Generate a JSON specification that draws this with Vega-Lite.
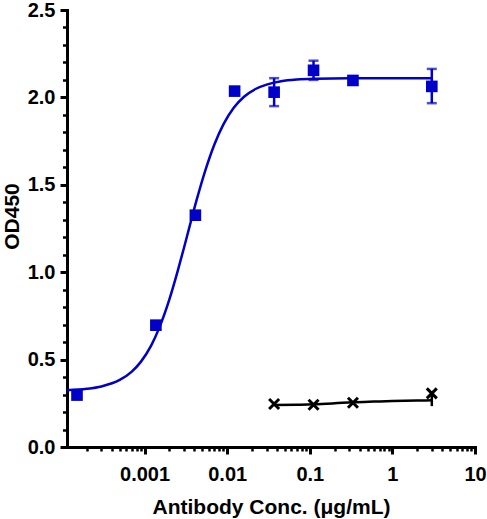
{
  "$schema": "https://vega.github.io/schema/vega-lite/v6.json",
  "width": 408,
  "height": 437,
  "autosize": "none",
  "padding": {"left": 67, "top": 10, "right": 12, "bottom": 72},
  "background": "white",
  "config": {
    "view": {"stroke": null},
    "font": "Liberation Sans",
    "axis": {
      "grid": false,
      "domainColor": "black",
      "domainWidth": 3,
      "domainCap": "square",
      "tickColor": "black",
      "labelColor": "black",
      "titleColor": "black",
      "labelFont": "Liberation Sans",
      "titleFont": "Liberation Sans",
      "labelFontWeight": "bold",
      "titleFontWeight": "bold",
      "labelFontSize": 20,
      "titleFontSize": 21
    }
  },
  "datasets": {
    "blue": [
      {"conc": 0.000152, "od": 0.297},
      {"conc": 0.00137, "od": 0.697},
      {"conc": 0.00412, "od": 1.326},
      {"conc": 0.0123, "od": 2.036},
      {"conc": 0.037, "od": 2.03, "lo": 1.95, "hi": 2.11},
      {"conc": 0.111, "od": 2.155, "lo": 2.10, "hi": 2.21},
      {"conc": 0.333, "od": 2.097},
      {"conc": 3, "od": 2.063, "lo": 1.967, "hi": 2.163}
    ],
    "blueCurve": [
      {"conc": 0.000115, "od": 0.325},
      {"conc": 0.0002, "od": 0.333},
      {"conc": 0.0003, "od": 0.3465},
      {"conc": 0.0005, "od": 0.3835},
      {"conc": 0.0007, "od": 0.4315},
      {"conc": 0.0009, "od": 0.487},
      {"conc": 0.0012, "od": 0.580},
      {"conc": 0.0015, "od": 0.680},
      {"conc": 0.002, "od": 0.846},
      {"conc": 0.0025, "od": 1.002},
      {"conc": 0.003, "od": 1.140},
      {"conc": 0.0035, "od": 1.261},
      {"conc": 0.0043, "od": 1.419},
      {"conc": 0.0055, "od": 1.590},
      {"conc": 0.007, "od": 1.731},
      {"conc": 0.009, "od": 1.846},
      {"conc": 0.012, "od": 1.941},
      {"conc": 0.016, "od": 2.004},
      {"conc": 0.022, "od": 2.048},
      {"conc": 0.03, "od": 2.073},
      {"conc": 0.045, "od": 2.092},
      {"conc": 0.07, "od": 2.102},
      {"conc": 0.12, "od": 2.107},
      {"conc": 0.3, "od": 2.11},
      {"conc": 1, "od": 2.11},
      {"conc": 3, "od": 2.11}
    ],
    "black": [
      {"conc": 0.037, "od": 0.246},
      {"conc": 0.111, "od": 0.242},
      {"conc": 0.333, "od": 0.253},
      {"conc": 3, "od": 0.307, "lo": 0.234, "hi": 0.307}
    ],
    "blackCurve": [
      {"conc": 0.037, "od": 0.240},
      {"conc": 0.07, "od": 0.241},
      {"conc": 0.111, "od": 0.244},
      {"conc": 0.2, "od": 0.250},
      {"conc": 0.333, "od": 0.256},
      {"conc": 0.6, "od": 0.260},
      {"conc": 1, "od": 0.263},
      {"conc": 2, "od": 0.266},
      {"conc": 3, "od": 0.267}
    ]
  },
  "encoding": {
    "x": {
      "field": "conc",
      "type": "quantitative",
      "scale": {"type": "log", "domain": [0.000115, 10], "nice": false},
      "axis": {
        "title": "Antibody Conc. (μg/mL)",
        "values": [0.0002, 0.0003, 0.0004, 0.0005, 0.0006, 0.0007, 0.0008, 0.0009,
                   0.001, 0.002, 0.003, 0.004, 0.005, 0.006, 0.007, 0.008, 0.009,
                   0.01, 0.02, 0.03, 0.04, 0.05, 0.06, 0.07, 0.08, 0.09,
                   0.1, 0.2, 0.3, 0.4, 0.5, 0.6, 0.7, 0.8, 0.9,
                   1, 2, 3, 4, 5, 6, 7, 8, 9, 10],
        "labelExpr": "abs(log(datum.value)/LN10 - round(log(datum.value)/LN10)) < 1e-6 ? format(datum.value, '~g') : ''",
        "tickSize": {"condition": {"test": "abs(log(datum.value)/LN10 - round(log(datum.value)/LN10)) < 1e-6", "value": 7}, "value": 4},
        "tickWidth": {"condition": {"test": "abs(log(datum.value)/LN10 - round(log(datum.value)/LN10)) < 1e-6", "value": 3}, "value": 2.5},
        "labelBaseline": "alphabetic",
        "labelPadding": 26,
        "labelFlush": false,
        "labelOverlap": false,
        "titleY": 66,
        "titleBaseline": "alphabetic"
      }
    },
    "y": {
      "field": "od",
      "type": "quantitative",
      "scale": {"domain": [0, 2.5], "nice": false},
      "axis": {
        "title": "OD450",
        "values": [0, 0.1, 0.2, 0.3, 0.4, 0.5, 0.6, 0.7, 0.8, 0.9, 1, 1.1, 1.2, 1.3, 1.4, 1.5, 1.6, 1.7, 1.8, 1.9, 2, 2.1, 2.2, 2.3, 2.4, 2.5],
        "labelExpr": "abs(datum.value*2 - round(datum.value*2)) < 1e-6 ? format(datum.value, '.1f') : ''",
        "tickSize": {"condition": {"test": "abs(datum.value*2 - round(datum.value*2)) < 1e-6", "value": 7}, "value": 4.5},
        "tickWidth": {"condition": {"test": "abs(datum.value*2 - round(datum.value*2)) < 1e-6", "value": 3}, "value": 2.5},
        "labelPadding": 5,
        "labelFlush": false,
        "labelOverlap": false,
        "titleX": -49,
        "titleY": 206,
        "titleBaseline": "alphabetic"
      }
    }
  },
  "layer": [
    {
      "data": {"name": "blueCurve"},
      "mark": {"type": "line", "color": "#0000C8", "strokeWidth": 2.5, "interpolate": "monotone"},
      "encoding": {}
    },
    {
      "data": {"name": "blackCurve"},
      "mark": {"type": "line", "color": "black", "strokeWidth": 2.5, "interpolate": "monotone"},
      "encoding": {}
    },
    {
      "data": {"name": "blue"},
      "transform": [{"filter": "isValid(datum.lo)"}],
      "mark": {"type": "rule", "color": "#0000C8", "strokeWidth": 2.5},
      "encoding": {"y": {"field": "lo", "type": "quantitative"}, "y2": {"field": "hi"}}
    },
    {
      "data": {"name": "blue"},
      "transform": [{"filter": "isValid(datum.lo)"}],
      "mark": {"type": "tick", "color": "#0000C8", "orient": "horizontal", "size": 10, "thickness": 2.5},
      "encoding": {"y": {"field": "lo", "type": "quantitative"}}
    },
    {
      "data": {"name": "blue"},
      "transform": [{"filter": "isValid(datum.hi)"}],
      "mark": {"type": "tick", "color": "#0000C8", "orient": "horizontal", "size": 10, "thickness": 2.5},
      "encoding": {"y": {"field": "hi", "type": "quantitative"}}
    },
    {
      "data": {"name": "blue"},
      "mark": {"type": "point", "shape": "square", "filled": true, "color": "#0000C8", "size": 135, "opacity": 1},
      "encoding": {}
    },
    {
      "data": {"name": "black"},
      "transform": [{"filter": "isValid(datum.lo)"}],
      "mark": {"type": "rule", "color": "black", "strokeWidth": 2.5},
      "encoding": {"y": {"field": "lo", "type": "quantitative"}, "y2": {"field": "hi"}}
    },
    {
      "data": {"name": "black"},
      "mark": {"type": "point", "shape": "M-1,-1L1,1M-1,1L1,-1", "filled": false, "stroke": "black", "strokeWidth": 3, "size": 100, "opacity": 1},
      "encoding": {}
    }
  ]
}
